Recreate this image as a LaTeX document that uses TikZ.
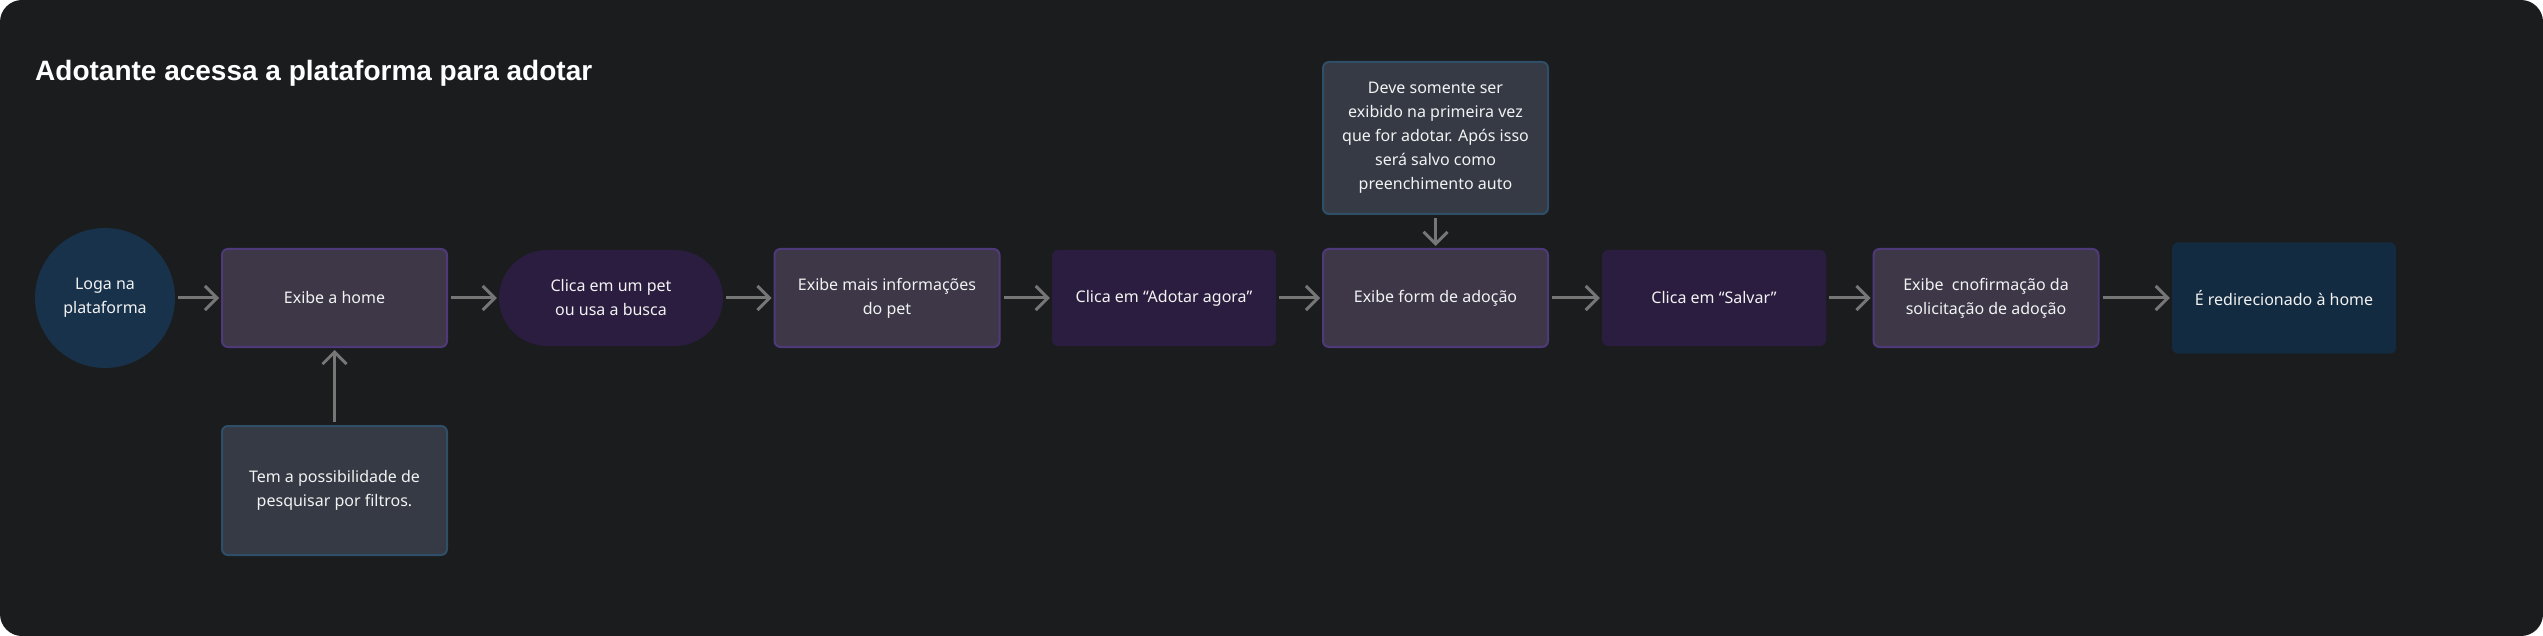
\documentclass[tikz,border=0pt]{standalone}
\usepackage{fontspec}
\setmainfont{Noto Sans}
\newfontfamily\titlefont{Liberation Sans}
\usetikzlibrary{arrows.meta,shapes.geometric}
\definecolor{bg}{HTML}{1B1C1E}
\definecolor{txt}{HTML}{F2F2F2}
\definecolor{circfill}{HTML}{17324A}
\definecolor{screenfill}{HTML}{3D3748}
\definecolor{screenborder}{HTML}{4E3A78}
\definecolor{actfill}{HTML}{2B1D3F}
\definecolor{notefill}{HTML}{353A45}
\definecolor{noteborder}{HTML}{2F4E68}
\definecolor{finalfill}{HTML}{122B40}
\definecolor{arrowgray}{HTML}{767676}
\begin{document}
\begin{tikzpicture}[x=1pt,y=-1pt,
  base/.style={font=\fontsize{16}{24}\selectfont, text=txt, align=center, inner sep=0pt},
  screen/.style={base, rectangle, rounded corners=6pt, fill=screenfill, draw=screenborder, line width=2pt, minimum width=225pt, minimum height=98pt},
  action/.style={base, rectangle, rounded corners=6pt, fill=actfill, minimum width=224pt, minimum height=96pt},
  notebox/.style={base, rectangle, rounded corners=6pt, fill=notefill, draw=noteborder, line width=2pt, minimum width=225pt},
  flow/.style={draw=arrowgray, line width=3pt, -{Straight Barb[length=12pt,width=24pt]}, shorten <=3pt, shorten >=2pt}
]
\useasboundingbox (0,0) rectangle (2543,636);
\fill[bg, rounded corners=22pt] (0,0) rectangle (2543,636);

\node[anchor=base west, text=white, inner sep=0pt, font=\titlefont\bfseries\fontsize{28}{32}\selectfont] (title) at (35,81) {Adotante acessa a plataforma para adotar};

\node[base, circle, fill=circfill, minimum size=140pt] (login) at (105,298) {Loga na\\plataforma};
\node[screen] (home) at (334.5,298) {Exibe a home};
\node[notebox, minimum height=129pt] (filtros) at (334.5,490.5) {Tem a possibilidade de\\pesquisar por filtros.};
\node[action, rounded corners=48pt] (pet) at (611,298) {Clica em um pet\\ou usa a busca};
\node[screen] (info) at (887,298) {Exibe mais informações\\do pet};
\node[action] (adotar) at (1164,298) {Clica em “Adotar agora”};
\node[screen] (form) at (1435.5,298) {Exibe form de adoção};
\node[notebox, minimum height=152pt] (note) at (1435.5,138) {Deve somente ser\\exibido na primeira vez\\que for adotar. Após isso\\será salvo como\\preenchimento auto};
\node[action] (salvar) at (1714,298) {Clica em “Salvar”};
\node[screen] (confirm) at (1986,298) {Exibe\ \ cnofirmação da\\solicitação de adoção};
\node[base, rectangle, rounded corners=6pt, fill=finalfill, minimum width=224pt, minimum height=111pt] (final) at (2284,298) {É redirecionado à home};

\draw[flow] (login) -- (home);
\draw[flow] (filtros) -- (home);
\draw[flow] (home) -- (pet);
\draw[flow] (pet) -- (info);
\draw[flow] (info) -- (adotar);
\draw[flow] (adotar) -- (form);
\draw[flow] (note) -- (form);
\draw[flow] (form) -- (salvar);
\draw[flow] (salvar) -- (confirm);
\draw[flow] (confirm) -- (final);
\end{tikzpicture}
\end{document}
